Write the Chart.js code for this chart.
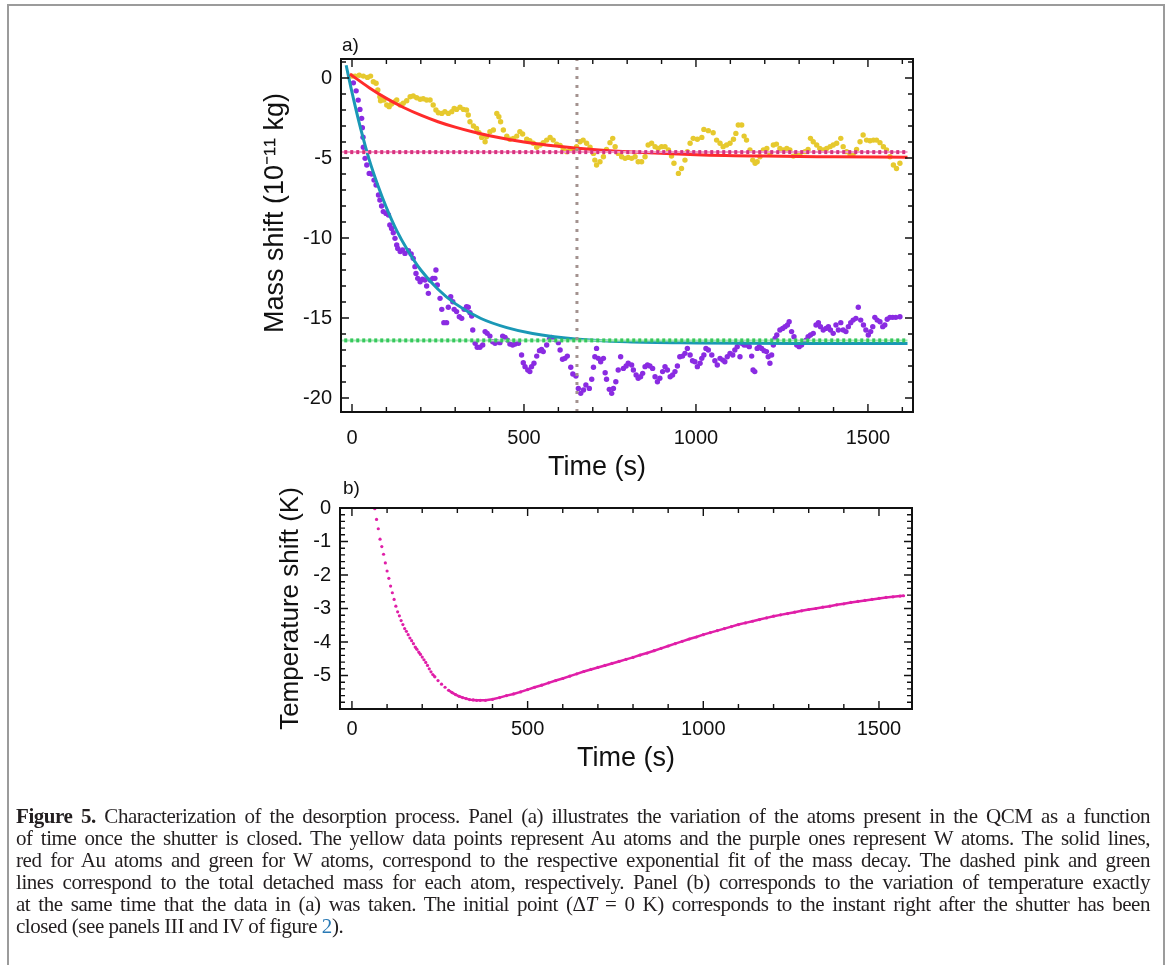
<!DOCTYPE html>
<html>
<head>
<meta charset="utf-8">
<script src="https://cdn.jsdelivr.net/npm/chart.js@4.4.1/dist/chart.umd.min.js"></script>
<style>
  body { margin: 0; background: #fff; }
  #page { position: relative; width: 1171px; height: 965px; overflow: hidden; font-family: "Liberation Sans", Arial, sans-serif; }
  #frame { position: absolute; left: 7px; top: 4px; width: 1154px; height: 990px; border: 2px solid #9b9b9b; border-bottom: none; }
  #massChart { position: absolute; left: 0; top: 0; }
  #tempChart { position: absolute; left: 0; top: 470px; }
  .panel-label { position: absolute; font-size: 19px; line-height: 19px; color: #111; }
  #caption { position: absolute; left: 16px; top: 805px; width: 1134px; font-family: "Liberation Serif", "Times New Roman", serif; font-size: 21px; letter-spacing: -0.45px; line-height: 22px; color: #231f20; }
  #caption .ln { text-align: justify; text-align-last: justify; white-space: nowrap; }
  #caption .ln.last { text-align-last: left; }
  #caption .ref { color: #2a7ab5; }
</style>
</head>
<body>
<div id="page">
  <div id="frame"></div>
  <canvas id="massChart" width="1171" height="500"></canvas>
  <canvas id="tempChart" width="1171" height="330"></canvas>
  <div class="panel-label" style="left:342px; top:35px;">a)</div>
  <div class="panel-label" style="left:343px; top:478px;">b)</div>
  <div id="caption">
    <div class="ln"><b>Figure 5.</b> Characterization of the desorption process. Panel (a) illustrates the variation of the atoms present in the QCM as a function</div>
    <div class="ln">of time once the shutter is closed. The yellow data points represent Au atoms and the purple ones represent W atoms. The solid lines,</div>
    <div class="ln">red for Au atoms and green for W atoms, correspond to the respective exponential fit of the mass decay. The dashed pink and green</div>
    <div class="ln">lines correspond to the total detached mass for each atom, respectively. Panel (b) corresponds to the variation of temperature exactly</div>
    <div class="ln">at the same time that the data in (a) was taken. The initial point (Δ<i>T</i> = 0 K) corresponds to the instant right after the shutter has been</div>
    <div class="ln last">closed (see panels III and IV of figure <span class="ref">2</span>).</div>
  </div>
</div>
<script>
// axis ticks and ranges
const timeTicks = [0, 500, 1000, 1500];
const massTicks = [0, -5, -10, -15, -20];
const tempTicks = [0, -1, -2, -3, -4, -5];
const massTimeRange = [-32, 1631];
const massRange = [-20.875, 1.19];
const tempTimeRange = [-34, 1594];
const tempRange = [-6, 0];

// reference levels (total detached mass) and shutter marker
const auTotal = -4.63;
const wTotal = -16.4;
const levelSpan = [-40, 1615];
const shutterTime = 654;

// Au (yellow) mass shift, 10^-11 kg
const auTime = [
  0, 9, 21, 33, 45, 54, 62, 70, 75, 81,
  83, 93, 101, 108, 115, 125, 130, 140, 149, 159,
  169, 178, 188, 198, 207, 217, 227, 236, 244, 251,
  261, 270, 280, 290, 297, 304, 314, 324, 333, 338,
  343, 353, 362, 369, 377, 387, 391, 401, 411, 421,
  427, 432, 440, 450, 459, 469, 479, 488, 496, 508,
  517, 527, 537, 547, 556, 566, 576, 585, 595, 605,
  614, 624, 634, 643, 653, 663, 672, 682, 692, 702,
  706, 711, 721, 731, 740, 750, 758, 765, 774, 784,
  794, 803, 813, 823, 832, 842, 852, 861, 871, 881,
  890, 900, 910, 920, 929, 936, 949, 958, 968, 975,
  983, 992, 1004, 1017, 1023, 1036, 1050, 1060, 1070, 1079,
  1089, 1099, 1109, 1116, 1123, 1133, 1140, 1147, 1157, 1165,
  1172, 1178, 1186, 1196, 1206, 1215, 1225, 1234, 1244, 1254,
  1264, 1273, 1283, 1293, 1302, 1317, 1326, 1333, 1341, 1351,
  1360, 1370, 1380, 1390, 1399, 1409, 1421, 1428, 1438, 1448,
  1457, 1467, 1477, 1486, 1496, 1506, 1516, 1525, 1535, 1545,
  1554, 1564, 1574, 1583, 1593
];
const auMass = [
  0.12, 0.12, 0.17, 0.12, 0.04, 0.12, -0.23, -0.33, -0.75, -1.17,
  -1.42, -1.37, -1.69, -1.79, -1.62, -1.48, -1.37, -1.69, -1.58, -1.42,
  -1.17, -1.12, -1.23, -1.33, -1.29, -1.37, -1.37, -1.69, -2.0, -2.17,
  -2.21, -2.1, -2.21, -2.1, -1.9, -1.96, -1.83, -1.96, -2.0, -2.31,
  -2.73, -3.0, -3.15, -3.42, -3.71, -3.98, -3.67, -3.35, -3.25, -2.21,
  -2.42, -2.73, -3.25, -3.63, -3.83, -3.77, -3.63, -3.35, -3.5, -3.83,
  -3.92, -4.08, -4.33, -4.19, -4.04, -3.88, -3.71, -3.88, -4.13, -4.21,
  -4.4, -4.6, -4.5, -4.54, -4.29, -3.98, -3.88, -4.08, -4.33, -4.71,
  -5.13, -5.44, -5.23, -4.92, -4.46, -4.04, -3.77, -4.29, -4.71, -4.92,
  -5.02, -4.96, -5.02, -4.92, -5.23, -5.23, -4.92, -4.19, -4.08, -4.29,
  -4.4, -4.29, -4.29, -4.5, -4.88, -5.33, -5.96, -5.65, -5.13, -4.6,
  -4.08, -3.77, -3.83, -3.71, -3.21, -3.29, -3.42, -3.88, -4.08, -4.29,
  -4.19, -4.08, -3.83, -3.46, -2.94, -2.94, -3.63, -3.88, -4.5, -5.13,
  -5.33, -5.23, -4.92, -4.5, -4.4, -4.71, -4.19, -4.13, -4.4, -4.5,
  -4.4, -4.5, -4.88, -4.71, -4.81, -4.6, -4.46, -3.77, -3.98, -4.19,
  -4.4, -4.5, -4.4, -4.29, -4.19, -4.08, -3.77, -4.29, -4.6, -4.81,
  -4.75, -4.46, -3.98, -3.56, -3.88, -3.92, -3.88, -3.88, -4.04, -4.29,
  -4.5, -4.92, -5.44, -5.65, -5.33
];

// W (purple) mass shift, 10^-11 kg
const wTime = [
  4, 12, 18, 23, 28, 30, 32, 33, 38, 43,
  50, 57, 64, 70, 77, 81, 86, 91, 99, 106,
  110, 115, 120, 125, 130, 133, 140, 147, 154, 164,
  172, 178, 183, 186, 191, 198, 205, 212, 217, 222,
  227, 235, 241, 244, 248, 256, 261, 267, 275, 280,
  287, 293, 297, 304, 312, 319, 326, 333, 338, 343,
  348, 351, 358, 364, 372, 380, 387, 393, 401, 409,
  416, 421, 430, 438, 445, 452, 459, 467, 474, 484,
  493, 498, 503, 511, 517, 522, 529, 537, 545, 551,
  556, 566, 574, 580, 587, 600, 605, 612, 619, 626,
  636, 642, 651, 658, 665, 673, 680, 690, 697, 702,
  706, 711, 716, 723, 731, 736, 740, 748, 755, 760,
  767, 774, 781, 789, 797, 803, 813, 818, 826, 832,
  839, 845, 852, 859, 866, 874, 881, 888, 895, 903,
  910, 917, 925, 932, 939, 946, 953, 961, 968, 975,
  983, 990, 997, 1004, 1012, 1017, 1023, 1029, 1036, 1046,
  1055, 1062, 1070, 1078, 1084, 1091, 1099, 1107, 1113, 1120,
  1128, 1133, 1140, 1147, 1155, 1162, 1166, 1171, 1178, 1184,
  1191, 1198, 1205, 1210, 1215, 1220, 1225, 1230, 1235, 1244,
  1252, 1259, 1266, 1271, 1278, 1285, 1293, 1300, 1307, 1314,
  1320, 1326, 1333, 1341, 1349, 1356, 1362, 1370, 1378, 1385,
  1391, 1399, 1407, 1414, 1421, 1428, 1436, 1443, 1450, 1457,
  1465, 1472, 1479, 1487, 1494, 1501, 1508, 1514, 1520, 1527,
  1535, 1543, 1549, 1556, 1564, 1572, 1581, 1593
];
const wMass = [
  -0.3, -0.8, -1.38, -1.96, -2.52, -3.1, -3.7, -4.33, -5.02, -5.44,
  -5.96, -6.0, -6.38, -6.69, -7.31, -7.63, -8.0, -8.35, -8.46, -8.56,
  -9.19, -9.4, -9.67, -10.02, -10.44, -10.65, -10.85, -10.75, -10.96, -10.79,
  -11.0, -11.27, -11.79, -12.21, -12.52, -12.73, -12.58, -12.63, -13.0, -13.46,
  -12.63, -12.52, -12.52, -12.0, -12.94, -13.77, -14.46, -15.29, -15.29, -14.33,
  -13.67, -13.98, -14.46, -14.6, -14.92, -15.02, -14.46, -14.29, -14.33, -14.67,
  -14.88, -15.75, -16.58, -16.83, -16.83, -16.69, -15.85, -15.96, -16.13, -16.48,
  -16.58, -16.48, -16.54, -16.13, -16.21, -16.38, -16.63, -16.69, -16.63, -16.58,
  -17.31, -17.79, -18.04, -18.25, -18.35, -18.04, -17.83, -17.38, -17.04, -16.96,
  -17.1, -16.69, -16.33, -16.21, -16.33, -16.54, -17.0, -17.58, -17.52, -17.38,
  -18.08, -18.5, -18.63, -19.4, -19.71, -19.5, -19.19, -19.4, -18.83, -18.08,
  -17.42, -16.9, -17.52, -17.73, -17.52, -18.42, -18.83, -19.46, -19.71, -19.4,
  -18.98, -18.25, -17.42, -18.15, -18.0, -17.83, -17.94, -18.25, -18.56, -18.77,
  -18.67, -18.46, -18.04, -17.94, -18.0, -18.15, -18.67, -18.98, -18.77, -18.35,
  -18.04, -18.25, -18.67, -18.56, -18.35, -18.0, -17.42, -17.38, -17.21, -16.9,
  -17.31, -17.67, -17.73, -18.04, -17.83, -17.52, -17.31, -16.9, -17.0, -17.31,
  -17.67, -17.94, -17.52, -17.63, -17.73, -17.42, -17.21, -17.31, -17.0, -16.79,
  -17.42, -16.58, -16.69, -16.69, -16.79, -17.38, -18.25, -18.35, -16.9, -16.79,
  -16.9, -17.04, -17.1, -17.42, -17.83, -17.31, -16.69, -16.27, -16.06, -15.75,
  -15.65, -15.54, -15.44, -15.23, -15.85, -16.17, -16.69, -16.79, -16.69, -16.48,
  -16.38, -16.17, -16.06, -15.96, -15.44, -15.29, -15.54, -15.75, -15.65, -15.54,
  -15.75, -15.96, -15.44, -15.75, -15.29, -15.75, -15.85, -15.54, -15.29, -15.13,
  -15.02, -14.33, -15.13, -15.44, -15.75, -16.06, -15.85, -15.54, -14.96, -15.13,
  -15.23, -15.54, -15.44, -15.08, -14.96, -14.96, -14.96, -14.92
];

// exponential fit curves
const auFitTime = [-6, 50, 100, 150, 200, 250, 300, 350, 400, 500, 600, 700, 800, 1000, 1200, 1400, 1615];
const auFitMass = [0.25, -0.6, -1.27, -1.84, -2.32, -2.73, -3.07, -3.36, -3.61, -4.0, -4.27, -4.47, -4.61, -4.79, -4.88, -4.92, -4.95];
const wFitTime = [-17, 0, 25, 50, 75, 100, 130, 160, 200, 250, 300, 375, 450, 525, 650, 800, 1000, 1300, 1615];
const wFitMass = [0.8, -0.9, -3.15, -5.1, -6.7, -8.1, -9.54, -10.7, -12.0, -13.2, -14.1, -15.03, -15.6, -15.97, -16.31, -16.49, -16.56, -16.6, -16.6];

// temperature shift, K
const tempTime = [
  65, 70, 75, 80, 85, 90, 95, 100, 105, 110,
  115, 120, 125, 130, 135, 140, 145, 150, 155, 160,
  165, 170, 175, 180, 185, 190, 195, 200, 205, 210,
  215, 220, 225, 230, 236, 245, 255, 265, 275, 285,
  295, 305, 315, 325, 335, 345, 355, 365, 380, 400,
  420, 440, 460, 480, 500, 520, 540, 560, 580, 600,
  620, 640, 660, 680, 700, 720, 740, 760, 780, 800,
  820, 840, 860, 880, 900, 920, 940, 960, 980, 1000,
  1020, 1040, 1060, 1080, 1100, 1120, 1140, 1160, 1180, 1200,
  1220, 1240, 1260, 1280, 1300, 1320, 1340, 1360, 1380, 1400,
  1420, 1440, 1460, 1480, 1500, 1520, 1540, 1560, 1570
];
const tempShift = [
  -0.02, -0.34, -0.62, -0.93, -1.15, -1.38, -1.64, -1.88, -2.1, -2.33,
  -2.53, -2.73, -2.93, -3.1, -3.22, -3.36, -3.48, -3.6, -3.68, -3.78,
  -3.88, -3.96, -4.05, -4.15, -4.22, -4.3, -4.37, -4.45, -4.53, -4.61,
  -4.7, -4.8, -4.89, -4.97, -5.04, -5.15, -5.26, -5.35, -5.44, -5.51,
  -5.57, -5.62, -5.66, -5.69, -5.72, -5.73, -5.74, -5.74, -5.74, -5.71,
  -5.66, -5.6, -5.55, -5.49, -5.42, -5.35, -5.29, -5.22, -5.15, -5.09,
  -5.02, -4.95, -4.88, -4.82, -4.76, -4.7, -4.64, -4.58, -4.52, -4.46,
  -4.39, -4.33, -4.26, -4.19, -4.12, -4.05, -3.98, -3.91, -3.85, -3.78,
  -3.72, -3.66, -3.6, -3.54, -3.48, -3.43, -3.38, -3.33, -3.28, -3.23,
  -3.19, -3.15, -3.11, -3.07, -3.03, -3.0, -2.96, -2.93, -2.89, -2.86,
  -2.82, -2.79, -2.76, -2.73, -2.7, -2.67, -2.65, -2.63, -2.62
];

const ink = '#111';
const tempColor = '#e01fa8';

function pairs(xs, ys) {
  return xs.map((x, i) => ({ x: x, y: ys[i] }));
}

// Mathematica-style frame: closed box with inward ticks on all four sides
const frameTicks = {
  id: 'frameTicks',
  afterDatasetsDraw(chart, args, opts) {
    const { ctx, chartArea: a } = chart;
    const xs = chart.scales.x, ys = chart.scales.y;
    const isMajor = (scale, v) => scale.ticks.some(t => Math.abs(t.value - v) < 1e-6);
    ctx.save();
    ctx.strokeStyle = ink;
    ctx.lineWidth = 1.4;
    ctx.beginPath();
    for (let i = Math.ceil(xs.min / opts.xStep); i * opts.xStep <= xs.max + 1e-9; i++) {
      const v = i * opts.xStep;
      const px = xs.getPixelForValue(v);
      const len = isMajor(xs, v) ? 8 : 5;
      ctx.moveTo(px, a.bottom); ctx.lineTo(px, a.bottom - len);
      ctx.moveTo(px, a.top); ctx.lineTo(px, a.top + len);
    }
    for (let i = Math.ceil(ys.min / opts.yStep - 1e-9); i * opts.yStep <= ys.max + 1e-9; i++) {
      const v = i * opts.yStep;
      const py = ys.getPixelForValue(v);
      const len = isMajor(ys, v) ? 8 : 5;
      ctx.moveTo(a.left, py); ctx.lineTo(a.left + len, py);
      ctx.moveTo(a.right, py); ctx.lineTo(a.right - len, py);
    }
    ctx.stroke();
    ctx.lineWidth = 2;
    ctx.strokeRect(a.left, a.top, a.right - a.left, a.bottom - a.top);
    ctx.restore();
  }
};

function axisX(range, ticks, height, tickPad, titleText, titlePad) {
  return {
    type: 'linear', min: range[0], max: range[1],
    afterBuildTicks: s => { s.ticks = ticks.map(v => ({ value: v })); },
    afterFit: s => { s.height = height; },
    grid: { display: false, drawTicks: false },
    border: { display: false },
    ticks: { padding: tickPad, color: ink, font: { size: 20 }, maxRotation: 0, callback: v => String(v) },
    title: { display: true, text: titleText, color: ink, font: { size: 27 }, padding: { top: 0, bottom: titlePad } }
  };
}

function axisY(range, ticks, width, titleText, titlePad, titleSize) {
  return {
    type: 'linear', min: range[0], max: range[1],
    afterBuildTicks: s => { s.ticks = ticks.map(v => ({ value: v })); },
    afterFit: s => { s.width = width; },
    grid: { display: false, drawTicks: false },
    border: { display: false },
    ticks: { padding: 9, color: ink, font: { size: 20 }, callback: v => String(v) },
    title: { display: true, text: titleText, color: ink, font: { size: titleSize }, padding: { top: titlePad, bottom: 0 } }
  };
}

Chart.defaults.font.family = '"Liberation Sans", Arial, sans-serif';

// panel a) mass shift
const nb = '\u00A0';
new Chart(document.getElementById('massChart'), {
  type: 'scatter',
  data: {
    datasets: [
      { label: 'shutter', data: pairs([shutterTime, shutterTime], massRange), showLine: true,
        borderColor: '#a3928f', borderWidth: 3, borderDash: [3, 6], pointRadius: 0, order: 0 },
      { label: 'Au total', data: pairs(levelSpan, [auTotal, auTotal]), showLine: true,
        borderColor: '#d8317f', borderWidth: 4, borderDash: [3, 3], pointRadius: 0, order: 1 },
      { label: 'Au total base', data: pairs(levelSpan, [auTotal, auTotal]), showLine: true,
        borderColor: '#f39cc6', borderWidth: 2, pointRadius: 0, order: 2 },
      { label: 'W total', data: pairs(levelSpan, [wTotal, wTotal]), showLine: true,
        borderColor: '#36c85c', borderWidth: 4, borderDash: [3, 3], pointRadius: 0, order: 1 },
      { label: 'W total base', data: pairs(levelSpan, [wTotal, wTotal]), showLine: true,
        borderColor: '#a3e8b3', borderWidth: 2, pointRadius: 0, order: 2 },
      { label: 'Au fit', data: pairs(auFitTime, auFitMass), showLine: true, cubicInterpolationMode: 'monotone',
        borderColor: '#ff2b2b', borderWidth: 3, pointRadius: 0, order: 3 },
      { label: 'W fit', data: pairs(wFitTime, wFitMass), showLine: true, cubicInterpolationMode: 'monotone',
        borderColor: '#1a98b6', borderWidth: 3, pointRadius: 0, order: 3 },
      { label: 'Au', data: pairs(auTime, auMass), backgroundColor: '#e6c92e', borderWidth: 0,
        pointRadius: 2.7, order: 4 },
      { label: 'W', data: pairs(wTime, wMass), backgroundColor: '#8a2be2', borderWidth: 0,
        pointRadius: 2.7, order: 4 }
    ]
  },
  options: {
    responsive: false,
    animation: false,
    layout: { padding: { left: 250, right: 258, top: 59, bottom: 0 } },
    plugins: { legend: { display: false }, tooltip: { enabled: false }, frameTicks: { xStep: 100, yStep: 1 } },
    scales: {
      x: axisX(massTimeRange, timeTicks, 88, 14, 'Time (s)' + nb.repeat(8), 16),
      y: axisY(massRange, massTicks, 91, nb.repeat(6) + 'Mass shift (10\u207B\u00B9\u00B9 kg)', 9, 27)
    }
  },
  plugins: [frameTicks]
});

// panel b) temperature shift
new Chart(document.getElementById('tempChart'), {
  type: 'scatter',
  data: {
    datasets: [
      { label: 'Temperature shift', data: pairs(tempTime, tempShift), showLine: true,
        borderWidth: 2.5, pointRadius: 1.6, borderColor: tempColor, backgroundColor: tempColor,
        pointBorderWidth: 0,
        // joined only where samples sit close together, so the steep start stays dotted
        segment: { borderColor: c => Math.abs(c.p1.y - c.p0.y) > 2.5 ? 'rgba(0,0,0,0)' : tempColor } }
    ]
  },
  options: {
    responsive: false,
    animation: false,
    layout: { padding: { left: 250, right: 259, top: 38, bottom: 0 } },
    plugins: { legend: { display: false }, tooltip: { enabled: false }, frameTicks: { xStep: 100, yStep: 0.2 } },
    scales: {
      x: axisX(tempTimeRange, timeTicks, 91, 8, 'Time (s)', 25),
      y: axisY(tempRange, tempTicks, 90, 'Temperature shift (K)', 25, 26)
    }
  },
  plugins: [frameTicks]
});
</script>
</body>
</html>
